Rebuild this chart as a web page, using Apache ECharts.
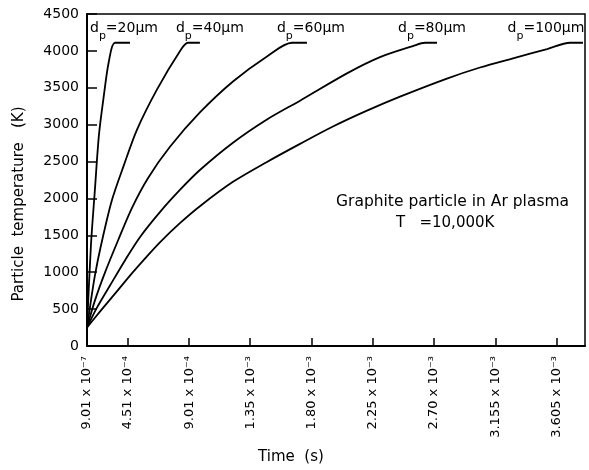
<!DOCTYPE html>
<html>
<head>
<meta charset="utf-8">
<script src="https://cdn.jsdelivr.net/npm/echarts@6/dist/echarts.min.js"></script>
<style>
  html, body { margin: 0; padding: 0; background: #fff; }
  #chart { width: 589px; height: 470px; }
</style>
</head>
<body>
<div id="chart"></div>
<script>
// time (s) and particle temperature (K)
const time20 = [1.50e-4, 1.79e-4, 2.08e-4, 2.38e-4, 2.75e-4, 3.11e-4, 3.56e-4, 4.66e-4]
const temp20 = [250, 1365, 2115, 2865, 3410, 3860, 4110, 4110]

const time40 = [1.50e-4, 1.79e-4, 2.08e-4, 2.53e-4, 3.33e-4, 4.22e-4, 5.17e-4, 6.64e-4, 8.33e-4, 8.92e-4, 9.80e-4]
const temp40 = [250, 615, 955, 1365, 1975, 2455, 2930, 3475, 3995, 4110, 4110]

const time60 = [1.50e-4, 2.08e-4, 2.82e-4, 3.78e-4, 4.80e-4, 5.98e-4, 7.60e-4, 9.80e-4, 1.223e-3, 1.473e-3, 1.657e-3, 1.767e-3]
const temp60 = [250, 615, 995, 1430, 1870, 2275, 2700, 3165, 3585, 3925, 4110, 4110]

const time80 = [1.50e-4, 2.23e-4, 3.19e-4, 4.29e-4, 5.39e-4, 6.86e-4, 8.33e-4, 9.80e-4, 1.223e-3, 1.473e-3, 1.716e-3, 2.061e-3, 2.304e-3, 2.546e-3, 2.635e-3, 2.723e-3]
const temp80 = [250, 520, 820, 1160, 1475, 1815, 2115, 2385, 2755, 3070, 3325, 3695, 3915, 4065, 4110, 4110]

const time100 = [1.50e-4, 2.45e-4, 3.56e-4, 4.66e-4, 5.76e-4, 6.86e-4, 8.33e-4, 9.80e-4, 1.223e-3, 1.473e-3, 1.716e-3, 1.958e-3, 2.208e-3, 2.451e-3, 2.796e-3, 3.039e-3, 3.282e-3, 3.532e-3, 3.701e-3, 3.796e-3]
const temp100 = [250, 465, 710, 955, 1185, 1405, 1665, 1895, 2225, 2495, 2740, 2975, 3190, 3380, 3625, 3775, 3900, 4025, 4110, 4110]

const diameters = [20, 40, 60, 80, 100]
const times = [time20, time40, time60, time80, time100]
const temps = [temp20, temp40, temp60, temp80, temp100]

// x tick labels as printed on the figure
const tickValues = [1.50e-4, 4.51e-4, 9.01e-4, 1.35e-3, 1.80e-3, 2.25e-3, 2.70e-3, 3.155e-3, 3.605e-3]
const tickLabels = ['9.01 x 10⁻⁷', '4.51 x 10⁻⁴', '9.01 x 10⁻⁴', '1.35 x 10⁻³', '1.80 x 10⁻³',
  '2.25 x 10⁻³', '2.70 x 10⁻³', '3.155 x 10⁻³', '3.605 x 10⁻³']

const FONT = 'DejaVu Sans'
const labelShift = [-6, 10, 4, -5, -37]

const chart = echarts.init(document.getElementById('chart'))

const series = diameters.map((d, k) => ({
  name: 'dp=' + d + 'µm',
  type: 'line',
  smooth: 0.3,
  showSymbol: true,
  showAllSymbol: true,
  symbolSize: 0,
  lineStyle: { color: '#000', width: 1.8 },
  itemStyle: { color: '#000' },
  data: times[k].map((t, i) => {
    const item = { value: [t, temps[k][i]] }
    if (i === times[k].length - 1) {
      item.label = {
        show: true,
        position: 'top',
        distance: 3,
        offset: [labelShift[k], 2],
        formatter: '{n|d}{s|p}{n|=' + d + 'µm}',
        rich: {
          n: { fontFamily: FONT, fontSize: 14, color: '#000', lineHeight: 20, verticalAlign: 'top' },
          s: { fontFamily: FONT, fontSize: 11, color: '#000', lineHeight: 12, verticalAlign: 'bottom' }
        }
      }
    }
    return item
  })
}))

chart.setOption({
  animation: false,
  backgroundColor: '#fff',
  grid: { left: 87, right: 4, top: 14, bottom: 124, show: true, borderColor: '#000', borderWidth: 1.5 },
  xAxis: {
    type: 'value',
    min: 1.50e-4,
    max: 3.811e-3,
    name: 'Time  (s)',
    nameLocation: 'middle',
    nameGap: 104,
    nameTextStyle: { fontFamily: FONT, fontSize: 15, color: '#000', padding: [0, 90, 0, 0] },
    axisLine: { lineStyle: { color: '#000', width: 2 } },
    axisTick: { inside: true, length: 8, customValues: tickValues, lineStyle: { color: '#000', width: 1.5 } },
    axisLabel: {
      customValues: tickValues,
      rotate: 90,
      margin: 10,
      fontFamily: FONT,
      fontSize: 13,
      color: '#000',
      formatter: (value) => {
        const i = tickValues.findIndex(v => Math.abs(v - value) < 1e-9)
        return tickLabels[i]
      }
    },
    splitLine: { show: false }
  },
  yAxis: {
    type: 'value',
    min: 0,
    max: 4500,
    interval: 500,
    name: 'Particle  temperature   (K)',
    nameLocation: 'middle',
    nameGap: 60,
    nameTextStyle: { fontFamily: FONT, fontSize: 15, color: '#000', padding: [0, 48, 0, 0] },
    axisLine: { show: true, lineStyle: { color: '#000', width: 2 } },
    axisTick: { show: true, inside: true, length: 10, lineStyle: { color: '#000', width: 1.5 } },
    axisLabel: { fontFamily: FONT, fontSize: 14, color: '#000', margin: 8, formatter: (v) => String(v) },
    splitLine: { show: false }
  },
  graphic: [
    { type: 'text', left: 336, top: 194, style: { text: 'Graphite particle in Ar plasma', font: '15.5px "DejaVu Sans"', fill: '#000' } },
    { type: 'text', left: 396, top: 216, style: { text: 'T   =10,000K', font: '15px "DejaVu Sans"', fill: '#000' } }
  ],
  series: series
})
</script>
</body>
</html>
